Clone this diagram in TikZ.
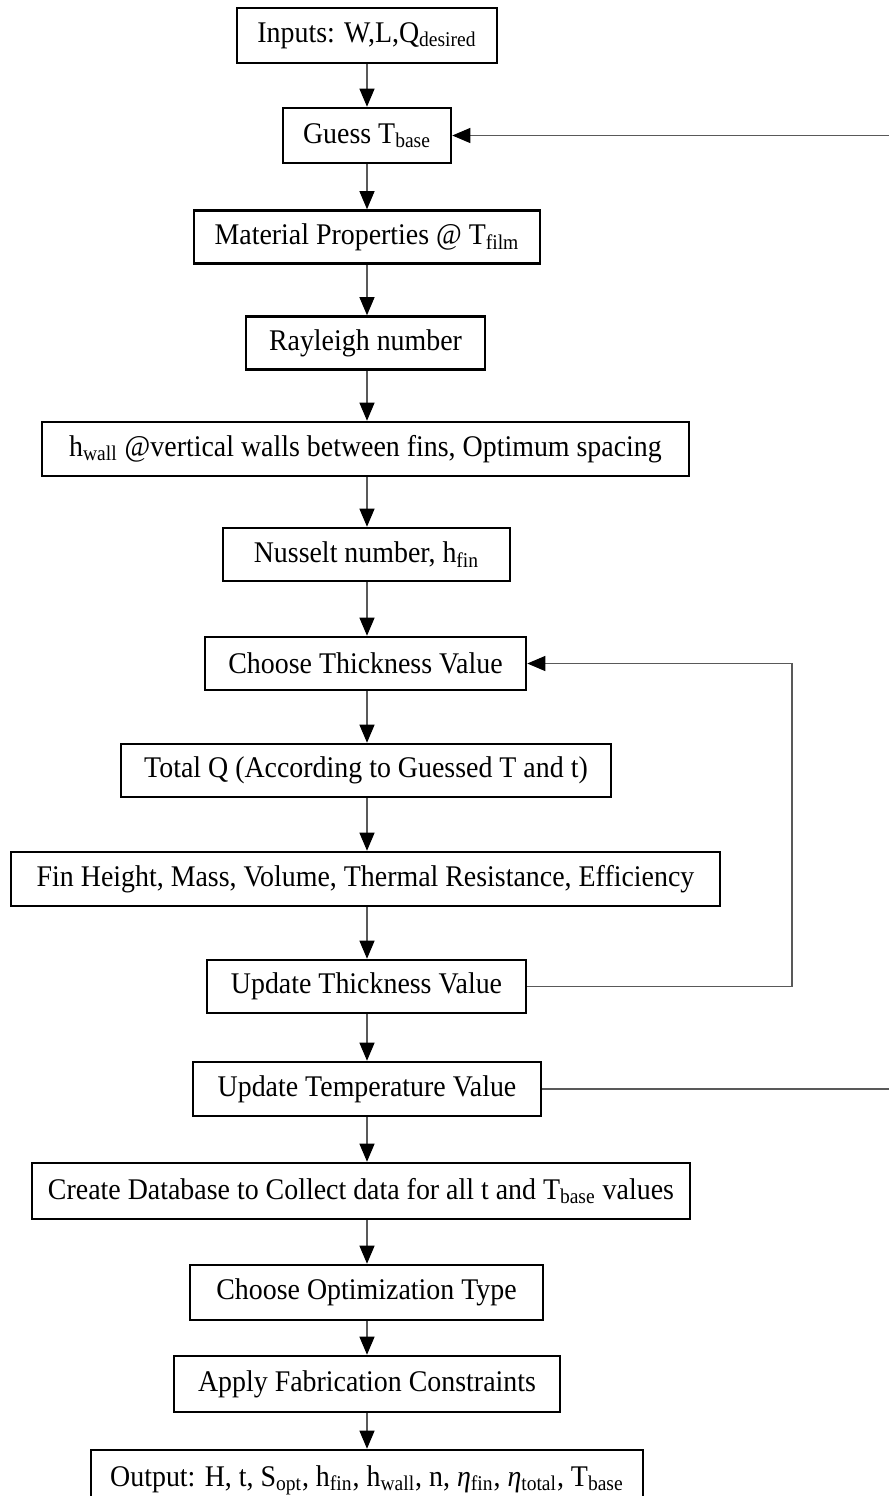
\documentclass[tikz,border=0pt]{standalone}
\usepackage{fontspec}
\setmainfont[FakeStretch=0.93]{Liberation Serif}
\usetikzlibrary{arrows.meta}
\begin{document}
\begin{tikzpicture}[x=0.5pt,y=-0.5pt,
  box/.style={draw=black,line width=1.3pt,fill=white,inner sep=0pt,align=center,
    font=\fontsize{15}{17}\selectfont},
  conn/.style={draw=black!65,line width=0.55pt,
    -{Triangle[length=9pt,width=7.5pt,color=black]}}]
\useasboundingbox (0,0) rectangle (889,1496);
\fill[white] (0,0) rectangle (889,1496);

\node[box,minimum width=130pt,minimum height=27.5pt] (in) at (367,35.5) {Inputs: W,L,Q\textsubscript{desired}};
\node[box,minimum width=84pt,minimum height=27.5pt] (guess) at (367,135.5) {Guess T\textsubscript{base}};
\node[box,minimum width=173pt,minimum height=26.5pt] (mat) at (367,237) {Material Properties @ T\textsubscript{film}};
\node[box,minimum width=119.5pt,minimum height=26.5pt] (ray) at (365.5,343) {Rayleigh number};
\node[box,minimum width=323.5pt,minimum height=27pt] (hwall) at (365.5,449) {h\textsubscript{wall} @vertical walls between fins, Optimum spacing};
\node[box,minimum width=143.5pt,minimum height=26.5pt] (nus) at (366.5,554.5) {Nusselt number, h\textsubscript{fin}};
\node[box,minimum width=160.5pt,minimum height=26.5pt] (choose) at (365.5,663.5) {Choose Thickness Value};
\node[box,minimum width=245pt,minimum height=26.5pt] (totq) at (366,770.5) {Total Q (According to Guessed T and t)};
\node[box,minimum width=354.5pt,minimum height=27pt] (fin) at (365.5,879) {Fin Height, Mass, Volume, Thermal Resistance, Efficiency};
\node[box,minimum width=159.5pt,minimum height=26.5pt] (updt) at (366.5,986.5) {Update Thickness Value};
\node[box,minimum width=174pt,minimum height=27pt] (updT) at (367,1089) {Update Temperature Value};
\node[box,minimum width=329pt,minimum height=28pt] (db) at (361,1191) {Create Database to Collect data for all t and T\textsubscript{base} values};
\node[box,minimum width=176.5pt,minimum height=27.5pt] (opt) at (366.5,1292.5) {Choose Optimization Type};
\node[box,minimum width=193pt,minimum height=28pt] (fab) at (367,1384) {Apply Fabrication Constraints};
\node[box,minimum width=276pt,minimum height=30pt] (out) at (367,1480) {Output: H, t, S\textsubscript{opt}, h\textsubscript{fin}, h\textsubscript{wall}, n, \textit{η}\textsubscript{fin}, \textit{η}\textsubscript{total}, T\textsubscript{base}};

\coordinate (cx) at (367,0);
\foreach \a/\b in {in/guess,guess/mat,mat/ray,ray/hwall,hwall/nus,nus/choose,choose/totq,totq/fin,fin/updt,updt/updT,updT/db,db/opt,opt/fab,fab/out}
  \draw[conn] (\a.south -| cx) -- (\b.north -| cx);

\coordinate (lp) at (792,0);
\coordinate (rp) at (900,0);
\draw[conn] (updt.east) -- (updt.east -| lp) |- (choose.east);
\draw[conn] (updT.east) -- (updT.east -| rp) |- (guess.east);
\end{tikzpicture}
\end{document}
